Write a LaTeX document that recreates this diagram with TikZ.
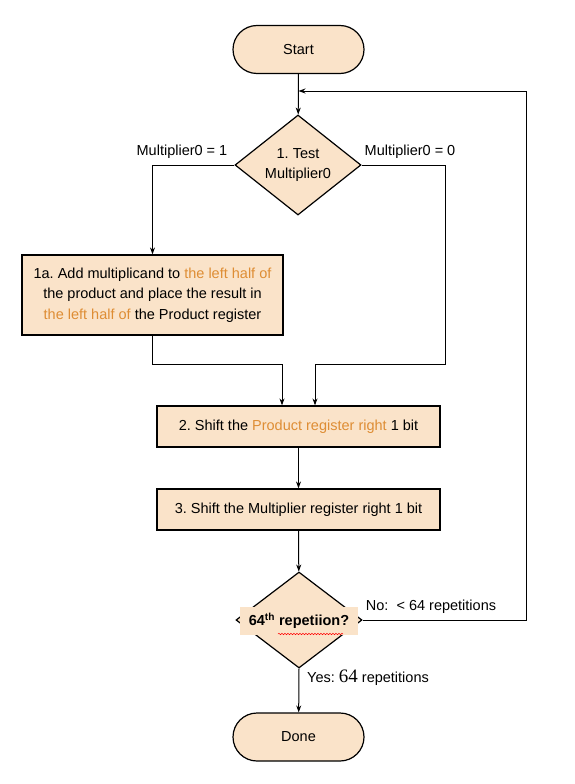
\documentclass[tikz,border=0pt]{standalone}
\usepackage{fontspec}
\setmainfont{Liberation Sans}
\newfontfamily\numfont{Liberation Serif}
\usetikzlibrary{shapes.geometric,arrows.meta,decorations.pathmorphing}
\definecolor{peach}{RGB}{250,227,201}
\definecolor{hilite}{RGB}{222,141,52}
\frenchspacing

\begin{document}
\begin{tikzpicture}[x=1pt,y=-1pt,
    font=\fontsize{14.5}{20.5}\selectfont,
    box/.style={draw,line width=1.2pt,fill=peach,inner sep=0pt},
    term/.style={box,rounded corners=24pt,minimum width=131pt,minimum height=48pt},
    proc/.style={box,minimum width=283pt,minimum height=41pt},
    test/.style={box,diamond,align=center,minimum width=126pt,minimum height=100pt},
    arr/.style={line width=1pt,-{Stealth[length=7pt,width=5pt]}}]
    \useasboundingbox (0,0) rectangle (575,784);

    % Draw the boxes
    \node[term] (start) at (298.5,49.5) {Start};
    \node[test] (test) at (298,165) {1. Test\\Multiplier0};
    \node[box,align=center,minimum width=261pt,minimum height=80pt] (add) at (152.5,295)
        {1a. Add multiplicand to \textcolor{hilite}{the left half of}\\
         the product and place the result in\\
         \textcolor{hilite}{the left half of} the Product register};
    \node[proc] (shiftp) at (298.5,426.5) {2. Shift the \textcolor{hilite}{Product register right} 1 bit};
    \node[proc] (shiftm) at (298.5,509.5) {3. Shift the Multiplier register right 1 bit};
    \node[test,minimum height=96pt] (rep) at (299,620) {};
    \node[fill=peach,inner sep=0pt,minimum width=118pt,minimum height=28pt,font=\fontsize{14.5}{17}\selectfont\bfseries]
        (replabel) at (299,621) {64\textsuperscript{th} repetiion?};
    \draw[red,line width=0.5pt,decorate,decoration={snake,amplitude=0.7pt,segment length=3pt}]
        (278,634) -- (343,634);
    \node[term] (done) at (298.5,737) {Done};

    % Turning points of the connectors
    \coordinate (join) at (298.5,91);
    \coordinate (back) at (526,91);
    \coordinate (rturn) at (445,364);
    \coordinate (rin) at (315,364);
    \coordinate (lin) at (282,364);

    % Draw the connectors
    \draw[arr] (start) -- (test);
    \draw[arr] (test.west) -| (add.north);
    \draw[arr] (test.east) -| (rturn) -- (rin) -- (rin |- shiftp.north);
    \draw[arr] (add.south) |- (lin) -- (lin |- shiftp.north);
    \draw[arr] (shiftp) -- (shiftm);
    \draw[arr] (shiftm) -- (rep);
    \draw[arr] (rep.south) -- (done);
    \draw[arr] (rep.east) -| (back) -- (join);

    % Add the text
    \node (one) at (182,152) {Multiplier0 = 1};
    \node (zero) at (410,152) {Multiplier0 = 0};
    \node (no) at (431,607) {No:\ \ < 64 repetitions};
    \node (yes) at (368,678) {Yes: {\numfont\fontsize{19}{20}\selectfont 64} repetitions};
\end{tikzpicture}
\end{document}
